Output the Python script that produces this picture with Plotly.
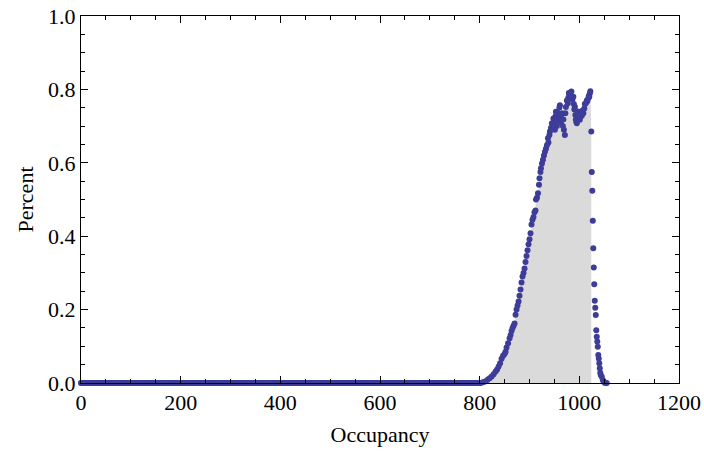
import plotly.graph_objects as go

# Flat region: occupancy values with ~zero percent
flat_x = list(range(0, 800))
flat_y = [0.0] * len(flat_x)

# Active region: occupancy vs percent
peak_x = [800, 804, 808, 812, 816, 820, 824, 828, 832, 835, 838, 841, 844, 847, 850,
          852, 854, 857, 860, 862, 864, 866, 868, 870, 872, 874, 876, 878, 880, 882,
          884, 886, 888, 890, 892, 894, 896, 898, 900, 902, 904, 906, 908, 910, 912,
          913, 915, 917, 919, 920, 922, 923, 925, 927, 929, 931, 933, 935, 937, 938,
          940, 941, 943, 945, 946, 947, 948, 950, 951, 952, 953, 955, 956, 957, 958,
          960, 961, 962, 963, 964, 965, 966, 967, 968, 969, 971, 972, 973, 975, 977,
          978, 979, 981, 982, 984, 985, 986, 988, 989, 990, 991, 992, 993, 994, 995,
          996, 997, 998, 1000, 1001, 1002, 1004, 1005, 1006, 1008, 1010, 1011, 1013, 1015, 1016,
          1018, 1019, 1020, 1021, 1022, 1024, 1025, 1026, 1027, 1028, 1029, 1030, 1031, 1032, 1033,
          1034, 1035, 1036, 1037, 1038, 1039, 1040, 1041, 1042, 1043, 1045, 1047, 1049, 1051, 1053,
          1055]
peak_y = [0.000, 0.001, 0.003, 0.005, 0.009, 0.013, 0.018, 0.024, 0.031, 0.037, 0.045, 0.054, 0.066, 0.074, 0.079,
          0.085, 0.097, 0.108, 0.122, 0.131, 0.142, 0.150, 0.156, 0.162, 0.186, 0.200, 0.211, 0.222, 0.238, 0.255,
          0.274, 0.290, 0.300, 0.312, 0.330, 0.346, 0.362, 0.378, 0.392, 0.408, 0.432, 0.445, 0.452, 0.465, 0.470,
          0.500, 0.505, 0.517, 0.540, 0.558, 0.575, 0.585, 0.598, 0.608, 0.620, 0.630, 0.638, 0.648, 0.667, 0.655,
          0.676, 0.685, 0.695, 0.708, 0.700, 0.703, 0.721, 0.712, 0.690, 0.726, 0.739, 0.700, 0.733, 0.716, 0.735,
          0.750, 0.757, 0.728, 0.710, 0.722, 0.717, 0.735, 0.700, 0.718, 0.690, 0.676, 0.735, 0.752, 0.770, 0.762,
          0.778, 0.790, 0.789, 0.783, 0.794, 0.780, 0.773, 0.780, 0.760, 0.745, 0.753, 0.730, 0.718, 0.712, 0.708,
          0.725, 0.740, 0.722, 0.730, 0.717, 0.726, 0.735, 0.728, 0.742, 0.735, 0.748, 0.760, 0.762, 0.770, 0.768,
          0.776, 0.782, 0.780, 0.789, 0.795, 0.685, 0.575, 0.524, 0.442, 0.367, 0.315, 0.269, 0.224, 0.205, 0.185,
          0.144, 0.126, 0.113, 0.099, 0.076, 0.067, 0.054, 0.040, 0.028, 0.022, 0.017, 0.008, 0.004, 0.001, 0.000,
          0.000]

# Gray filled region under the rising part (ends at the sharp drop)
fill_end = 1024

x_ticks = [0, 200, 400, 600, 800, 1000, 1200]
y_ticks = [0.0, 0.2, 0.4, 0.6, 0.8, 1.0]

fill_x = [x for x in peak_x if x <= fill_end]
fill_y = [y for x, y in zip(peak_x, peak_y) if x <= fill_end]

MARK = "#3d3d99"
FONT = "Liberation Serif"

fig = go.Figure()
fig.add_trace(go.Scatter(x=fill_x, y=fill_y, mode="lines", fill="tozeroy",
                         fillcolor="#dadada", line=dict(width=0, color="#dadada"),
                         hoverinfo="skip", showlegend=False))
fig.add_trace(go.Scatter(x=flat_x + peak_x, y=flat_y + peak_y, mode="markers",
                         marker=dict(size=6, color=MARK, line=dict(width=0)),
                         cliponaxis=False, showlegend=False))

axis_common = dict(showline=True, linecolor="black", linewidth=1, mirror="ticks",
                   ticks="inside", ticklen=7, tickwidth=1, tickcolor="black",
                   showgrid=False, zeroline=False, automargin=False,
                   tickfont=dict(family=FONT, size=22, color="black"))

fig.update_layout(
    width=704, height=454,
    margin=dict(l=81, r=25, t=16, b=71),
    paper_bgcolor="white", plot_bgcolor="white",
    font=dict(family=FONT, size=22, color="black"),
    xaxis=dict(range=[0, 1200], tickvals=x_ticks, ticktext=[str(v) for v in x_ticks],
               minor=dict(dtick=50, tick0=0, ticks="inside", ticklen=4, tickcolor="black"),
               title=dict(text="Occupancy", font=dict(family=FONT, size=22), standoff=12),
               **axis_common),
    yaxis=dict(range=[0, 1.0], tickvals=y_ticks, ticktext=[f"{v:.1f}" for v in y_ticks],
               minor=dict(dtick=0.05, tick0=0, ticks="inside", ticklen=4, tickcolor="black"),
               title=dict(text="Percent", font=dict(family=FONT, size=22), standoff=8),
               **axis_common),
)

fig.write_html("out.html", config={"displayModeBar": False},
               post_script="document.body.style.margin='0';document.body.style.overflow='hidden';")
